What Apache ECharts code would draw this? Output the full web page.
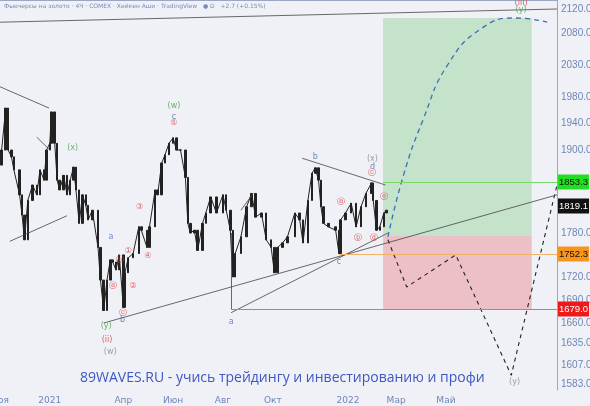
<!DOCTYPE html>
<html>
<head>
<meta charset="UTF-8">
<title>Gold futures 4H</title>
<script src="https://cdn.jsdelivr.net/npm/echarts@6/dist/echarts.min.js"></script>
<style>
  html, body { margin: 0; padding: 0; background: #eff1f6; }
  #chart { width: 590px; height: 406px; }
</style>
</head>
<body>
<div id="chart"></div>
<script>
// price axis: TradingView scale is not linear, so tick prices map to scale units
var scalePrices = [2135, 2120, 2080, 2030, 1980, 1940, 1900, 1853.3, 1819.1, 1780, 1752.3, 1720, 1690, 1679, 1660, 1635, 1607, 1583, 1570];
var scaleUnits  = [0, 9, 33, 65, 97, 123, 150, 182, 206, 233, 254, 277, 300, 309, 323, 343, 365, 384, 394];
var tickLabels  = ['2120.0', '2080.0', '2030.0', '1980.0', '1940.0', '1900.0', '1780.0', '1720.0', '1690.0', '1660.0', '1635.0', '1607.0', '1583.0'];
var tickValues  = [2120, 2080, 2030, 1980, 1940, 1900, 1780, 1720, 1690, 1660, 1635, 1607, 1583];

var monthDates  = ['2020-11-01', '2021-01-01', '2021-04-01', '2021-06-01', '2021-08-01', '2021-10-01', '2022-01-01', '2022-03-01', '2022-05-01'];
var monthLabels = ['Ноя', '2021', 'Апр', 'Июн', 'Авг', 'Окт', '2022', 'Мар', 'Май'];

var dates = ['2020-10-30','2020-11-03','2020-11-08','2020-11-11','2020-11-15','2020-11-18','2020-11-25','2020-11-28','2020-12-01','2020-12-05',
  '2020-12-11','2020-12-16','2020-12-20','2020-12-25','2020-12-28','2021-01-01','2021-01-03','2021-01-07','2021-01-10','2021-01-13',
  '2021-01-18','2021-01-22','2021-01-26','2021-01-30','2021-02-02','2021-02-06','2021-02-10','2021-02-14','2021-02-17','2021-02-22',
  '2021-03-01','2021-03-04','2021-03-08','2021-03-12','2021-03-16','2021-03-19','2021-03-23','2021-03-27','2021-04-01','2021-04-03',
  '2021-04-07','2021-04-13','2021-04-20','2021-04-23','2021-04-30','2021-05-03','2021-05-10','2021-05-13','2021-05-18','2021-05-22',
  '2021-05-27','2021-06-01','2021-06-05','2021-06-10','2021-06-16','2021-06-19','2021-06-22','2021-06-27','2021-07-01','2021-07-07',
  '2021-07-11','2021-07-17','2021-07-24','2021-08-01','2021-08-05','2021-08-10','2021-08-13','2021-08-16','2021-08-23','2021-08-30',
  '2021-09-05','2021-09-10','2021-09-17','2021-09-23','2021-09-29','2021-10-03','2021-10-07','2021-10-13','2021-10-19','2021-10-28',
  '2021-11-03','2021-11-07','2021-11-13','2021-11-18','2021-11-22','2021-11-26','2021-11-29','2021-12-02','2021-12-08','2021-12-17',
  '2021-12-21','2021-12-23','2021-12-29','2022-01-05','2022-01-11','2022-01-17','2022-01-23','2022-01-30','2022-02-01','2022-02-05',
  '2022-02-09','2022-02-14','2022-02-17'];
var closes = [1878,1900,1963,1900,1890,1871,1835,1806,1771,1827,
  1849,1835,1871,1856,1900,1910,1957,1910,1856,1842,
  1863,1835,1856,1875,1842,1794,1835,1820,1799,1813,
  1761,1716,1677,1716,1744,1741,1730,1751,1681,1726,
  1747,1753,1789,1784,1761,1789,1842,1835,1881,1893,
  1910,1918,1900,1900,1860,1794,1780,1784,1757,1794,
  1809,1832,1809,1835,1813,1784,1720,1753,1775,1818,
  1837,1803,1809,1771,1761,1726,1761,1767,1775,1809,
  1799,1767,1827,1866,1874,1856,1818,1794,1789,1784,
  1753,1799,1809,1823,1789,1818,1837,1852,1827,1784,
  1789,1809,1813];

// forecast paths
var bluePathDates  = ['2022-02-19','2022-03-10','2022-04-03','2022-05-03','2022-06-14','2022-07-26','2022-09-02'];
var bluePathPrices = [1775, 1863, 1945, 2030, 2088, 2105, 2098];
var blackPathDates  = ['2022-02-19','2022-03-14','2022-05-13','2022-07-20','2022-09-14'];
var blackPathPrices = [1771, 1707, 1751, 1594, 1849];

// trend lines [date1, price1, date2, price2]
var trendLines = [
  ['2020-11-01', 2098, '2022-09-14', 2120],
  ['2020-11-01', 1996, '2020-12-31', 1963],
  ['2020-11-13', 1769, '2021-01-22', 1805],
  ['2020-12-16', 1919, '2021-01-01', 1900],
  ['2021-03-08', 1660, '2022-09-14', 1835],
  ['2021-08-11', 1674, '2022-02-19', 1780],
  ['2021-11-06', 1888, '2022-02-16', 1849],
  ['2021-08-11', 1780, '2021-08-11', 1679],
  ['2021-08-23', 1813, '2021-09-07', 1837]
];
var levelTarget = 1853.3, levelEntry = 1752.3, levelStop = 1679.0, lastPrice = 1819.1;
var tagPrices = [levelTarget, lastPrice, levelEntry, levelStop];
var tagStyles = ['g', 'k', 'o', 'r'];
var boxStart = '2022-02-13', boxEnd = '2022-08-14';

var greenLabels = [['2021-01-29', 1903, '(x)'], ['2021-06-02', 1966, '(w)'], ['2021-03-11', 1656, '(y)'], ['2022-08-01', 2118, '(y)']];
var blueLabels = [['2021-06-02', 1949, 'c'], ['2021-03-17', 1775, 'a'], ['2021-03-31', 1664, 'b'], ['2021-11-22', 1890, 'b'],
  ['2022-01-31', 1876, 'd'], ['2021-08-11', 1661, 'a'], ['2021-12-21', 1741, 'c']];
var greyLabels = [['2021-03-16', 1624, '(w)'], ['2022-01-31', 1887, '(x)'], ['2022-07-24', 1586, '(y)']];
var redLabels = [['2021-03-12', 1639, '(ii)'], ['2022-08-01', 2130, '(iii)'], ['2021-06-02', 1940, '⑤'], ['2021-04-21', 1818, '③'],
  ['2021-04-07', 1757, '①'], ['2021-03-28', 1744, 'ⓑ'], ['2021-03-19', 1708, 'ⓐ'], ['2021-04-13', 1709, '②'],
  ['2021-05-01', 1749, '④'], ['2021-04-01', 1673, 'ⓒ'], ['2021-12-23', 1825, 'ⓐ'], ['2022-01-13', 1773, 'ⓑ'],
  ['2022-01-31', 1866, 'ⓒ'], ['2022-02-02', 1773, 'ⓓ'], ['2022-02-14', 1832, 'ⓔ']];

var xMin = '2020-11-01', xMax = '2022-09-14';
function t(d) { return Date.parse(d + 'T00:00:00Z'); }
function toU(p) {
  for (var i = 0; i < scalePrices.length - 1; i++) {
    var a = scalePrices[i], b = scalePrices[i + 1];
    if (p <= a && p >= b || i === scalePrices.length - 2) {
      return scaleUnits[i] + (a - p) / (a - b) * (scaleUnits[i + 1] - scaleUnits[i]);
    }
  }
}

var candles = [];
for (var i = 0; i < closes.length; i++) {
  var o = i === 0 ? closes[0] : closes[i - 1], c = closes[i];
  candles.push([t(dates[i]), toU(o), toU(c), toU(Math.max(o, c)), toU(Math.min(o, c))]);
}
function path(ds, ps) { return ds.map(function (d, i) { return [t(d), toU(ps[i])]; }); }
function labelSeries(list, color) {
  return {
    type: 'scatter', symbolSize: 0, silent: true, z: 5,
    data: list.map(function (l) { return { value: [t(l[0]), toU(l[1])], name: l[2] }; }),
    label: { show: true, position: 'inside', formatter: '{b}', color: color, fontSize: 8, fontFamily: 'DejaVu Sans' }
  };
}
function seg(d1, p1, d2, p2, style) {
  return [{ coord: [t(d1), toU(p1)], lineStyle: style }, { coord: [t(d2), toU(p2)] }];
}
var tagBox = { fontSize: 9.5, fontFamily: 'Liberation Sans', padding: [3, 1, 2, 1] };
function rich(bg, fg) { return Object.assign({ backgroundColor: bg, color: fg }, tagBox); }

var chart = echarts.init(document.getElementById('chart'));
chart.setOption({
  animation: false,
  backgroundColor: '#eff1f6',
  grid: { left: 0, right: 33, top: 0, bottom: 16, outerBoundsMode: 'none', containLabel: false },
  xAxis: {
    type: 'value', min: t(xMin), max: t(xMax),
    axisLine: { lineStyle: { color: '#9aa6c4' } }, axisTick: { show: false }, splitLine: { show: false },
    axisLabel: {
      customValues: monthDates.map(t),
      formatter: function (v) {
        for (var i = 0; i < monthDates.length; i++) if (Math.abs(t(monthDates[i]) - v) < 864e5) return monthLabels[i];
        return '';
      },
      color: '#6f86b8', fontSize: 9, fontFamily: 'DejaVu Sans', margin: 6
    }
  },
  yAxis: [{
    type: 'value', inverse: true, min: 0, max: 390, position: 'right',
    axisLine: { show: true, lineStyle: { color: '#9aa6c4' } }, axisTick: { show: false }, splitLine: { show: false },
    axisLabel: {
      customValues: tickValues.map(toU),
      formatter: function (v) {
        for (var i = 0; i < tickValues.length; i++) if (Math.abs(toU(tickValues[i]) - v) < 0.01) return tickLabels[i];
        return '';
      },
      color: '#6f86b8', fontSize: 10, fontFamily: 'Liberation Sans', margin: 4
    }
  }, {
    type: 'value', inverse: true, min: 0, max: 390, position: 'right',
    axisLine: { show: false }, axisTick: { show: false }, splitLine: { show: false },
    axisLabel: {
      customValues: tagPrices.map(toU), margin: 1,
      formatter: function (v) {
        for (var i = 0; i < tagPrices.length; i++) if (Math.abs(toU(tagPrices[i]) - v) < 0.01) return '{' + tagStyles[i] + '|' + tagPrices[i].toFixed(1) + '}';
        return '';
      },
      rich: { g: rich('#22dd22', '#111'), k: rich('#111', '#fff'), o: rich('#f7941d', '#111'), r: rich('#f01818', '#fff') }
    }
  }],
  series: [
    {
      type: 'candlestick', data: candles, barWidth: 2,
      itemStyle: { color: '#222', color0: '#222', borderColor: '#222', borderColor0: '#222', borderWidth: 1 }
    },
    {
      type: 'line', data: candles.map(function (c) { return [c[0], c[2]]; }), symbol: 'none',
      lineStyle: { color: '#222', width: 1 }
    },
    {
      type: 'line', data: [], symbol: 'none',
      markArea: {
        silent: true,
        data: [
          [{ coord: [t(boxStart), toU(2105)], itemStyle: { color: 'rgba(120,200,120,0.35)' } }, { coord: [t(boxEnd), toU(1776)] }],
          [{ coord: [t(boxStart), toU(1776)], itemStyle: { color: 'rgba(235,120,130,0.4)' } }, { coord: [t(boxEnd), toU(levelStop)] }]
        ]
      },
      markLine: {
        silent: true, symbol: 'none', label: { show: false },
        lineStyle: { color: '#444', width: 0.8, type: 'solid' },
        data: trendLines.map(function (l) { return seg(l[0], l[1], l[2], l[3]); }).concat([
          seg(boxStart, levelTarget, xMax, levelTarget, { color: '#7bd86b', width: 1 }),
          seg('2021-12-21', levelEntry, xMax, levelEntry, { color: '#f3b26a', width: 1 }),
          seg('2021-08-11', levelStop, xMax, levelStop, { color: '#e86a6a', width: 1 })
        ])
      }
    },
    {
      type: 'line', data: path(bluePathDates, bluePathPrices), smooth: true, symbol: 'none',
      lineStyle: { color: '#3a6fb5', width: 1.3, type: [5, 4] }, z: 4
    },
    {
      type: 'line', data: path(blackPathDates, blackPathPrices), symbol: 'none',
      lineStyle: { color: '#222', width: 1.1, type: [4, 4] }, z: 4
    },
    labelSeries(greenLabels, '#4aa14a'),
    labelSeries(blueLabels, '#4a6fb8'),
    labelSeries(greyLabels, '#888'),
    labelSeries(redLabels, '#d84040')
  ],
  graphic: [
    { type: 'text', left: 4, top: 3, style: { text: 'Фьючерсы на золото · 4Ч · COMEX · Хейкен Аши · TradingView   ● D   +2.7 (+0.15%)', fill: '#7a8db5', fontSize: 6, fontFamily: 'DejaVu Sans' } },
    { type: 'text', left: 80, top: 371, style: { text: '89WAVES.RU - учись трейдингу и инвестированию и профи', fill: '#3d57c4', fontSize: 14, fontFamily: 'Open Sans' } }
  ]
});
</script>
</body>
</html>
